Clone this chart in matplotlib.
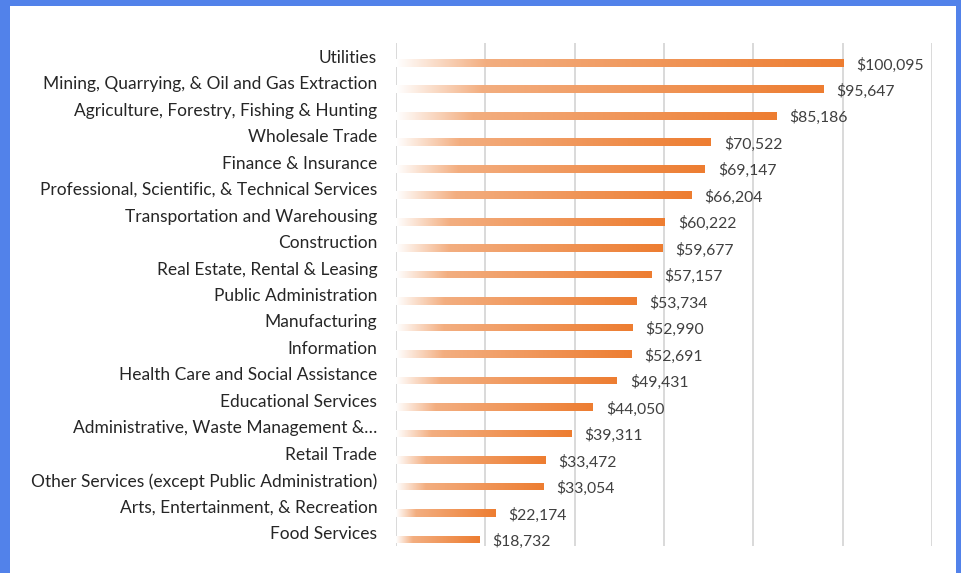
import matplotlib
matplotlib.use("Agg")
import matplotlib.pyplot as plt
import numpy as np
from matplotlib.colors import LinearSegmentedColormap
from matplotlib.patches import Rectangle

categories = [
    "Utilities",
    "Mining, Quarrying, & Oil and Gas Extraction",
    "Agriculture, Forestry, Fishing & Hunting",
    "Wholesale Trade",
    "Finance & Insurance",
    "Professional, Scientific, & Technical Services",
    "Transportation and Warehousing",
    "Construction",
    "Real Estate, Rental & Leasing",
    "Public Administration",
    "Manufacturing",
    "Information",
    "Health Care and Social Assistance",
    "Educational Services",
    "Administrative, Waste Management &\u2026",
    "Retail Trade",
    "Other Services (except Public Administration)",
    "Arts, Entertainment, & Recreation",
    "Food Services",
]
wages = [100095, 95647, 85186, 70522, 69147, 66204, 60222, 59677, 57157,
         53734, 52990, 52691, 49431, 44050, 39311, 33472, 33054, 22174, 18732]
value_labels = ["$100,095", "$95,647", "$85,186", "$70,522", "$69,147", "$66,204",
                "$60,222", "$59,677", "$57,157", "$53,734", "$52,990", "$52,691",
                "$49,431", "$44,050", "$39,311", "$33,472", "$33,054", "$22,174",
                "$18,732"]
x_ticks = [0, 20000, 40000, 60000, 80000, 100000, 120000]

plt.rcParams['font.family'] = ['Lato', 'DejaVu Sans']

W, H = 962, 573
fig = plt.figure(figsize=(W / 100, H / 100), dpi=100)
fig.patch.set_facecolor("#5282EA")
# white panel inside blue border
fig.patches.append(Rectangle((10 / W, 0), (956 - 10) / W, (H - 6) / H,
                             transform=fig.transFigure, facecolor="white",
                             edgecolor="none", zorder=-5))

ax = fig.add_axes([396 / W, 1 - 546 / H, (932 - 396) / W, (546 - 43) / H])
ax.set_zorder(2)
ax.set_facecolor("none")

cmap = LinearSegmentedColormap.from_list(
    "grad", [(0.0, "#FFFFFF"), (0.2, "#F3AE80"), (1.0, "#ED7D31")])
grad = np.linspace(0, 1, 256).reshape(1, -1)

n = len(categories)
y = np.arange(n)
bar_off = 0.25
bar_h = 0.29

bars = ax.barh(y + bar_off, wages, height=bar_h, facecolor="none",
               edgecolor="none", zorder=3)
for b in bars:
    x0, y0 = b.get_x(), b.get_y()
    w, h = b.get_width(), b.get_height()
    im = ax.imshow(grad, cmap=cmap, aspect="auto",
                   extent=(x0, x0 + w, y0 + h, y0), zorder=3,
                   interpolation="bilinear")
    im.set_clip_path(b)

for yi, v, lab in zip(y, wages, value_labels):
    ax.annotate(lab, xy=(v, yi + bar_off), xytext=(13, -2),
                textcoords="offset pixels", ha="left", va="center",
                fontsize=11.3, color="#404040")

ax.set_xlim(0, 120000)
ax.set_ylim(n - 0.5, -0.5)
ax.set_xticks(x_ticks)
ax.set_xticklabels([])
ax.set_yticks(y)
ax.set_yticklabels(categories, fontsize=12.5, color="#262626")
ax.tick_params(axis="both", length=0)
ax.tick_params(axis="y", pad=13.5)
ax.grid(axis="x", color="#D9D9D9", linewidth=1.4, zorder=0)
ax.set_axisbelow(True)
for s in ax.spines.values():
    s.set_visible(False)

fig.savefig("out.png", dpi=100, facecolor=fig.get_facecolor())
